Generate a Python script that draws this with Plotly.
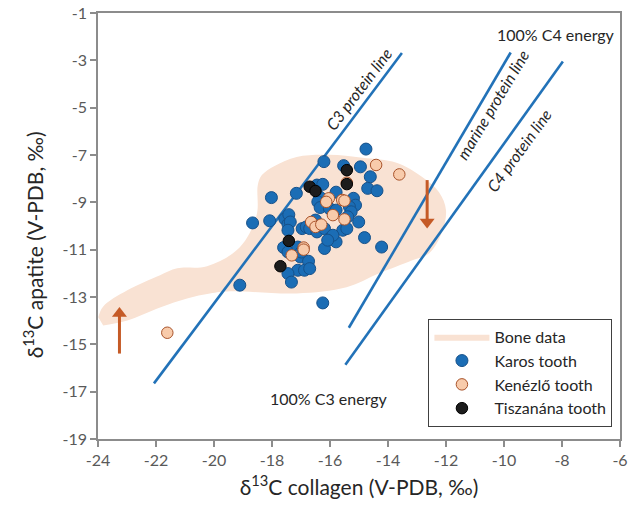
import plotly.graph_objects as go

# ---- data ----
karos_x = [-14.76, -16.21, -15.53, -14.95, -14.61, -14.70, -14.38, -18.02, -17.16, -16.45,
           -16.25, -15.79, -16.36, -15.19, -15.12, -15.33, -15.27, -15.39, -16.42, -16.34,
           -16.02, -15.79, -15.01, -18.67, -18.08, -17.56, -17.42, -17.45, -17.37, -17.45,
           -16.96, -16.82, -16.50, -16.70, -16.45, -16.19, -16.02, -15.79, -15.56, -15.42,
           -14.81, -14.22, -16.19, -17.60, -17.45, -17.11, -17.02, -16.74, -17.11, -16.88,
           -16.70, -17.45, -17.33, -19.11, -16.25, -15.90, -16.99, -16.08]
karos_y = [-6.75, -7.28, -7.45, -7.50, -7.92, -8.41, -8.51, -8.80, -8.62, -8.27,
           -8.24, -8.57, -8.77, -8.83, -9.12, -9.19, -9.40, -9.61, -8.98, -9.22,
           -9.26, -9.33, -9.83, -9.87, -9.78, -9.70, -9.52, -9.92, -9.83, -10.18,
           -10.11, -10.04, -9.75, -10.11, -10.25, -10.11, -10.53, -10.67, -10.18, -10.11,
           -10.49, -10.89, -10.95, -10.91, -11.10, -10.89, -11.31, -11.49, -11.87, -11.87,
           -11.80, -12.01, -12.37, -12.50, -13.25, -10.39, -11.10, -10.60]

kenezlo_x = [-14.41, -13.61, -15.42, -16.04, -16.13, -15.58, -15.50, -15.90, -15.50, -16.65,
             -16.50, -16.30, -16.91, -16.91, -17.32, -21.61]
kenezlo_y = [-7.42, -7.82, -8.17, -8.83, -8.98, -8.90, -8.93, -9.54, -9.72, -9.83,
             -10.04, -9.94, -10.91, -11.00, -11.24, -14.51]

tisz_x = [-15.42, -16.70, -16.50, -15.42, -17.42, -17.71]
tisz_y = [-7.64, -8.34, -8.52, -8.23, -10.63, -11.70]

bone_x = [-23.99, -23.82, -22.99, -21.86, -21.27, -20.24, -19.11, -18.53, -18.49, -18.35,
          -17.91, -17.15, -16.02, -14.88, -13.71, -12.82, -12.24, -12.00, -12.14, -12.58,
          -13.16, -14.30, -15.43, -17.15, -19.45, -20.14, -20.93, -21.86, -22.99, -23.82]
bone_y = [-13.86, -13.40, -12.72, -12.08, -11.79, -11.70, -10.90, -9.54, -8.27, -7.85,
          -7.46, -7.08, -6.99, -7.12, -7.33, -7.93, -8.57, -9.33, -10.26, -11.15,
          -11.45, -12.00, -12.59, -12.85, -12.76, -12.85, -13.06, -13.44, -13.99, -14.20]

c3_line_x = [-22.07, -13.52]
c3_line_y = [-16.65, -2.69]
marine_line_x = [-15.35, -9.77]
marine_line_y = [-14.30, -2.67]
c4_line_x = [-15.47, -7.97]
c4_line_y = [-15.86, -3.05]

# arrows: (x, tail y, tip y)
arrow_up = (-23.26, -15.39, -13.48)
arrow_down = (-12.65, -8.06, -10.05)

x_ticks = [-24, -22, -20, -18, -16, -14, -12, -10, -8, -6]
y_ticks = [-19, -17, -15, -13, -11, -9, -7, -5, -3, -1]
x_tick_labels = ["-24", "-22", "-20", "-18", "-16", "-14", "-12", "-10", "-8", "-6"]
y_tick_labels = ["-19", "-17", "-15", "-13", "-11", "-9", "-7", "-5", "-3", "-1"]

FONT = "Lato"
LINE_BLUE = "#2272b8"
ARROW = "#c55a26"

fig = go.Figure()

fig.add_trace(go.Scatter(x=bone_x, y=bone_y, mode="lines", fill="toself",
                         fillcolor="#f9e2d3", line=dict(width=0, shape="spline", color="#f9e2d3"),
                         name="Bone data", hoverinfo="skip"))

for lx, ly in [(c3_line_x, c3_line_y), (marine_line_x, marine_line_y), (c4_line_x, c4_line_y)]:
    fig.add_trace(go.Scatter(x=lx, y=ly, mode="lines", line=dict(color=LINE_BLUE, width=2.6),
                             showlegend=False, hoverinfo="skip"))

# orange arrows: shaft + triangular head at the tip
HEAD_BACK = 0.22  # head centre sits a little behind the tip (axis units)
for ax_, y0, y1 in [arrow_up, arrow_down]:
    sgn = 1 if y1 > y0 else -1
    fig.add_trace(go.Scatter(x=[ax_, ax_], y=[y0, y1 - sgn * 0.3], mode="lines",
                             line=dict(color=ARROW, width=3), showlegend=False, hoverinfo="skip"))
    fig.add_trace(go.Scatter(x=[ax_], y=[y1 - sgn * HEAD_BACK], mode="markers",
                             marker=dict(symbol="triangle-up" if sgn > 0 else "triangle-down",
                                         size=13, color=ARROW, line=dict(width=0)),
                             showlegend=False, hoverinfo="skip"))

fig.add_trace(go.Scatter(x=karos_x, y=karos_y, mode="markers", name="Karos tooth",
                         marker=dict(size=12, color="#1b6db5", line=dict(color="#16518a", width=1))))
fig.add_trace(go.Scatter(x=kenezlo_x, y=kenezlo_y, mode="markers", name="Kenézlő tooth",
                         marker=dict(size=11.5, color="#f8cbab", line=dict(color="#a9532a", width=1))))
fig.add_trace(go.Scatter(x=tisz_x, y=tisz_y, mode="markers", name="Tiszanána tooth",
                         marker=dict(size=11.5, color="#1c1c1c", line=dict(color="#000000", width=1))))

txt = dict(family=FONT, size=16, color="#262626")
ann = [
    dict(x=-15.0, y=-4.2, text="<i>C3 protein line</i>", textangle=-53, showarrow=False, font=txt),
    dict(x=-10.4, y=-4.85, text="<i>marine protein line</i>", textangle=-59, showarrow=False, font=txt),
    dict(x=-9.5, y=-6.8, text="<i>C4 protein line</i>", textangle=-54, showarrow=False, font=txt),
    dict(x=-8.2, y=-1.92, text="100% C4 energy", showarrow=False, font=txt),
    dict(x=-16.02, y=-17.3, text="100% C3 energy", showarrow=False, font=txt),
    # y-axis title
    dict(xref="paper", yref="paper", x=-0.155, y=0.455, text="δ<sup>13</sup>C apatite (V-PDB, ‰)",
         textangle=-90, showarrow=False, font=dict(family=FONT, size=21, color="#262626")),
]

axis_common = dict(showgrid=False, zeroline=False, showline=True, linecolor="#8c8c8c", linewidth=1.5,
                   mirror=True, ticks="outside", ticklen=6, tickcolor="#8c8c8c", tickwidth=1.5,
                   automargin=False,
                   tickfont=dict(family=FONT, size=16, color="#595959"))

fig.update_layout(
    width=629, height=509,
    margin=dict(l=98, r=9, t=13, b=70),
    paper_bgcolor="white", plot_bgcolor="white",
    font=dict(family=FONT),
    annotations=ann,
    xaxis=dict(range=[-24, -6], tickvals=x_ticks, ticktext=x_tick_labels,
               title=dict(text="δ<sup>13</sup>C collagen (V-PDB, ‰)", font=dict(family=FONT, size=21, color="#262626"), standoff=12),
               **axis_common),
    yaxis=dict(range=[-19, -1], tickvals=y_ticks, ticktext=y_tick_labels, **axis_common),
    legend=dict(x=0.633, y=0.282, xanchor="left", yanchor="top", bgcolor="white",
                bordercolor="#404040", borderwidth=1, itemwidth=55,
                font=dict(family=FONT, size=16, color="#262626"), tracegroupgap=0),
    showlegend=True,
)

fig.write_html("out.html", config={"displayModeBar": False},
               post_script="document.body.style.margin='0px';")
